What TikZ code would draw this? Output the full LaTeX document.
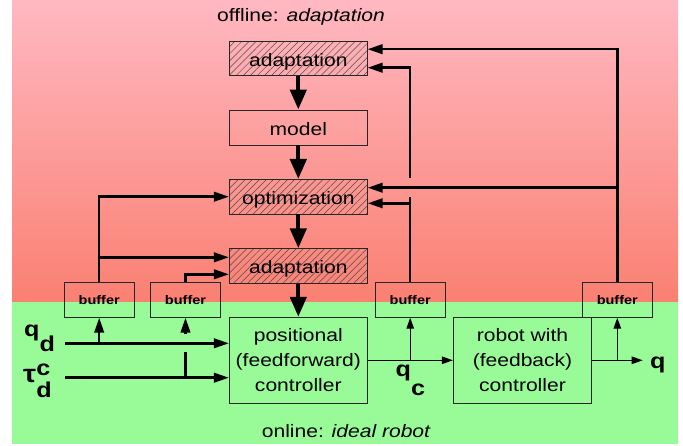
\documentclass[tikz,border=0pt]{standalone}
\usepackage{fontspec}
\setmainfont{Liberation Sans}[FakeStretch=1.17]
\usetikzlibrary{arrows.meta,patterns.meta}
\definecolor{bgpink}{RGB}{255,184,194}
\definecolor{bgsalmon}{RGB}{250,128,114}
\definecolor{bggreen}{RGB}{152,251,152}
\begin{document}
\begin{tikzpicture}[x=1pt,y=-1pt,
  box/.style={draw=black!85,line width=0.8pt,inner sep=0pt,font=\fontsize{18}{25}\selectfont,align=center},
  onebox/.style={box,text height=16pt,text depth=0pt},
  hatch/.style={onebox,pattern={Lines[angle=45,distance=5pt,line width=0.5pt]},pattern color=black!70},
  bufbox/.style={draw=black!85,line width=0.8pt,inner sep=0pt,minimum width=69.5pt,minimum height=34.6pt,font=\fontsize{12.4}{14}\selectfont\bfseries},
  big/.style={line width=4.3pt,-{Triangle[length=20pt,width=16pt]}},
  fb/.style={line width=2.5pt,-{Triangle[length=15pt,width=9.5pt]}},
  fbl/.style={line width=2.5pt},
  sig/.style={line width=1.2pt,-{Triangle[length=11pt,width=7.5pt]}},
  sigl/.style={line width=1.2pt},
  lbl/.style={font=\fontsize{21.5}{24}\selectfont\bfseries,inner sep=0pt,anchor=base west},
  title/.style={font=\fontsize{18}{22}\selectfont,inner sep=0pt}]
\useasboundingbox (0,0) rectangle (683,446);
% background
\fill[top color=bgpink,bottom color=bgsalmon] (12,0) rectangle (678,302);
\fill[bggreen] (12,302) rectangle (678,444.3);
% boxes
\node[hatch,minimum width=138pt,minimum height=34.3pt] (adapt1) at (298.3,58.2) {adaptation};
\node[onebox,minimum width=138pt,minimum height=35pt] (model) at (298.3,127.5) {model};
\node[hatch,minimum width=138pt,minimum height=34.6pt] (optim) at (298.3,196.7) {optimization};
\node[hatch,minimum width=138pt,minimum height=34.6pt] (adapt2) at (298.3,266) {adaptation};
\node[box,minimum width=138pt,minimum height=86pt] (posctl) at (298.3,360.3) {positional\\(feedforward)\\controller};
\node[box,minimum width=138.4pt,minimum height=86pt] (robot) at (522.5,360.3) {robot with\\(feedback)\\controller};
\node[bufbox] (buf1) at (99.2,300) {buffer};
\node[bufbox] (buf2) at (185.5,300) {buffer};
\node[bufbox] (buf3) at (410.2,300) {buffer};
\node[bufbox] (buf4) at (617.3,300) {buffer};
% main chain
\draw[big] (adapt1) -- (model);
\draw[big] (model) -- (optim);
\draw[big] (optim) -- (adapt2);
\draw[big] (adapt2) -- (posctl);
% feedback inputs
\coordinate (a1in1) at ([yshift=9pt]adapt1.east);
\coordinate (a1in2) at ([yshift=-9.5pt]adapt1.east);
\coordinate (opin1) at ([yshift=9pt]optim.east);
\coordinate (opin2) at ([yshift=-6.6pt]optim.east);
\coordinate (a2in1) at ([yshift=8.7pt]adapt2.west);
\coordinate (a2in2) at ([yshift=-8.3pt]adapt2.west);
\draw[fb] (buf4.north) |- (a1in1);
\draw[fb] (buf4.north |- opin1) -- (opin1);
\coordinate (gapB) at (410.2,197);
\coordinate (gapT) at (410.2,178.3);
\draw[fbl] (buf3.north) -- (gapB);
\draw[fb] (gapT) |- (a1in2);
\draw[fb] (buf3.north |- opin2) -- (opin2);
\draw[fb] (buf1.north) |- (optim.west);
\draw[fb] (buf1.north |- a2in1) -- (a2in1);
\draw[fb] (buf2.north) |- (a2in2);
% inputs
\coordinate (qdS) at (65,343.3);
\coordinate (tauS) at (65,377.7);
\draw[fb] (qdS) -- (qdS -| posctl.west);
\draw[fb] (tauS) -- (tauS -| posctl.west);
\draw[fb] (buf1.south |- qdS) -- (buf1.south);
\coordinate (tauGapB) at (185.5,351.7);
\coordinate (tauGapT) at (185.5,334);
\draw[fbl] (buf2.south |- tauS) -- (tauGapB);
\draw[fb] (tauGapT) -- (buf2.south);
% signals
\draw[sig] (posctl) -- (robot);
\draw[sig] (buf3.south |- posctl.east) -- (buf3.south);
\coordinate (qend) at (642.7,360.3);
\draw[sig] (robot.east) -- (qend);
\draw[sig] (buf4.south |- robot.east) -- (buf4.south);
% labels
\node[lbl] (qd) at (24,336.5) {q\raisebox{-15pt}{d}};
\node[lbl] (tau) at (23,383) {{\fontsize{25}{26}\selectfont τ}\rlap{\raisebox{8pt}{c}}\raisebox{-14pt}{d}};
\node[lbl] (qc) at (395.5,377) {q\raisebox{-19pt}{c}};
\node[lbl] (q) at (650,368.5) {q};
\node[title] (offline) at (301,17) {offline: \textit{adaptation}};
\node[title,anchor=east] (online) at (431,431) {online: \textit{ideal robot}};
\end{tikzpicture}
\end{document}
